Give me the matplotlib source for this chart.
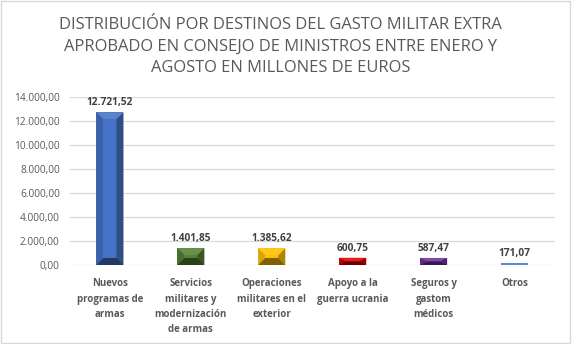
import matplotlib
matplotlib.use("Agg")
import matplotlib.pyplot as plt
from matplotlib.patches import Polygon, Rectangle
from matplotlib.colors import to_rgb
import numpy as np

categories = [
    "Nuevos\nprogramas de\narmas",
    "Servicios\nmilitares y\nmodernización\nde armas",
    "Operaciones\nmilitares en el\nexterior",
    "Apoyo a la\nguerra ucrania",
    "Seguros y\ngastom\nmédicos",
    "Otros",
]
values = [12721.52, 1401.85, 1385.62, 600.75, 587.47, 171.07]
colors = ["#4472C4", "#548235", "#FFC000", "#E00000", "#7030A0", "#4472C4"]
yticks = [0, 2000, 4000, 6000, 8000, 10000, 12000, 14000]

title = ("DISTRIBUCIÓN POR DESTINOS DEL GASTO MILITAR EXTRA\n"
         "APROBADO EN CONSEJO DE MINISTROS ENTRE ENERO Y\n"
         "AGOSTO EN MILLONES DE EUROS")

TEXT = "#595959"
FONT = ["Open Sans", "DejaVu Sans"]


def es_fmt(v):
    s = f"{v:,.2f}"
    return s.replace(",", "X").replace(".", ",").replace("X", ".")


def shade(c, f):
    r = np.array(to_rgb(c))
    if f >= 1:
        return tuple(r + (1 - r) * (f - 1))
    return tuple(r * f)


W, H = 572, 344
fig = plt.figure(figsize=(W / 100, H / 100), dpi=100)
fig.patch.set_facecolor("white")
fig.add_artist(Rectangle((0.002, 0.003), 0.995, 0.994, transform=fig.transFigure,
                         fill=False, edgecolor="#D9D9D9", linewidth=1))

left, right, bottom, top = 69.5, 555, 265, 97
ax = fig.add_axes([left / W, 1 - bottom / H, (right - left) / W, (bottom - top) / H])
ax.set_xlim(-0.5, len(categories) - 0.5)
ax.set_ylim(0, 14000)

for s in ax.spines.values():
    s.set_visible(False)
ax.set_yticks(yticks)
ax.set_yticklabels([es_fmt(v) for v in yticks], fontsize=7.3, color=TEXT, family=FONT)
ax.yaxis.grid(True, color="#D9D9D9", linewidth=0.9)
ax.set_axisbelow(True)
ax.tick_params(axis="y", length=0, pad=7)
ax.tick_params(axis="x", length=0, pad=9.5)
x = np.arange(len(categories))
ax.set_xticks(x)
ax.set_xticklabels(categories, fontsize=7.0, color=TEXT, family=FONT,
                   linespacing=1.55, fontweight="bold")

# Bevelled bars
px_x = (len(categories)) / (right - left)          # data units per pixel (x)
px_y = 14000 / (bottom - top)                        # data units per pixel (y)
hw = 13.5 * px_x
for xi, v, c in zip(x, values, colors):
    x0, x1 = xi - hw, xi + hw
    y0, y1 = 0, v
    if v < 4 * px_y:
        # too thin for a bevel: plain strip
        ax.add_patch(Rectangle((x0, y0), x1 - x0, v, facecolor=shade(c, 1.15),
                               edgecolor="none", zorder=3))
    else:
        bx = 7 * px_x
        by = min(7 * px_y, v / 2)
        ix0, ix1, iy0, iy1 = x0 + bx, x1 - bx, y0 + by, y1 - by
        faces = [
            ([(x0, y0), (x1, y0), (x1, y1), (x0, y1)], 1.0),          # base
            ([(x0, y1), (x1, y1), (ix1, iy1), (ix0, iy1)], 1.12),     # top
            ([(x0, y0), (ix0, iy0), (ix0, iy1), (x0, y1)], 0.85),     # left
            ([(x1, y0), (x1, y1), (ix1, iy1), (ix1, iy0)], 0.68),     # right
            ([(x0, y0), (x1, y0), (ix1, iy0), (ix0, iy0)], 0.5),      # bottom
            ([(ix0, iy0), (ix1, iy0), (ix1, iy1), (ix0, iy1)], 1.0),  # front
        ]
        for pts, f in faces:
            ax.add_patch(Polygon(pts, closed=True, facecolor=shade(c, f),
                                 edgecolor="none", zorder=3))
    ax.annotate(es_fmt(v), (xi, v), xytext=(0, 3), textcoords="offset points",
                ha="center", va="bottom", fontsize=7.3, fontweight="bold",
                color="#404040", family=FONT, zorder=4)

fig.text(0.49, 1 - 46.5 / H, title, ha="center", va="center", fontsize=11.9,
         color=TEXT, family=FONT, linespacing=1.42)

fig.savefig("out.png", dpi=100)
